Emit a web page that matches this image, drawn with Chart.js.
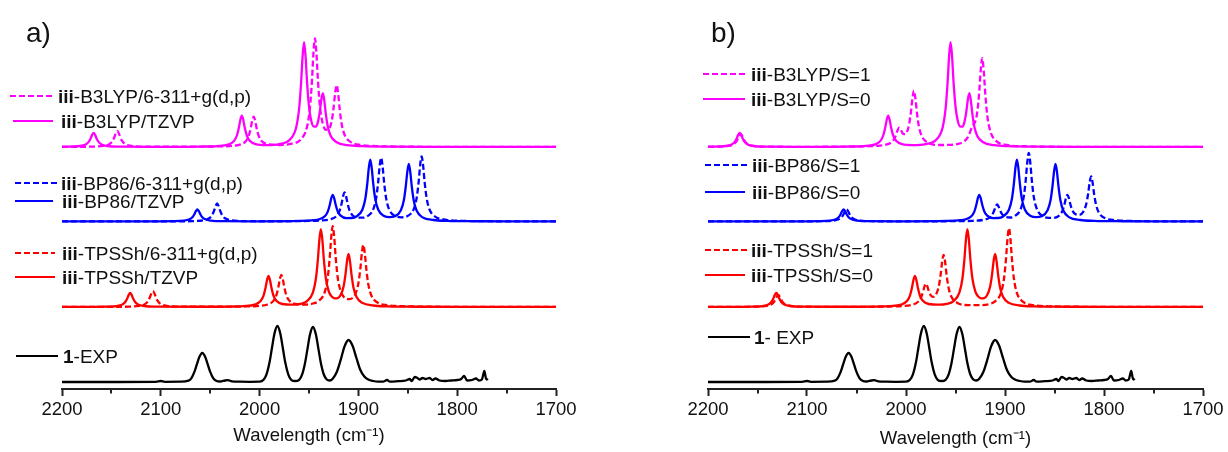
<!DOCTYPE html>
<html><head><meta charset="utf-8">
<script src="https://cdn.jsdelivr.net/npm/chart.js@4.4.1/dist/chart.umd.min.js"></script>
<style>
html,body{margin:0;padding:0;background:#fff;overflow:hidden;width:1228px;height:452px;position:relative}
#wa{position:absolute;left:0;top:0;width:614px;height:452px}
#wb{position:absolute;left:614px;top:0;width:614px;height:470px}
canvas{display:block}
</style></head><body>
<div id="wa"><canvas id="ca" width="614" height="452"></canvas></div>
<div id="wb"><canvas id="cb" width="614" height="470"></canvas></div>
<script>
// ---------- DATA ----------
const waveTicks = [2200, 2100, 2000, 1900, 1800, 1700];
const minorTicks = [2150, 2050, 1950, 1850, 1750];
// vertical offsets of the stacked spectra: B3LYP, BP86, TPSSh, EXP
const baselineOffsets = [242, 167.5, 82, 7];

const legendLabelsA = ['iii-B3LYP/6-311+g(d,p)', 'iii-B3LYP/TZVP', 'iii-BP86/6-311+g(d,p)', 'iii-BP86/TZVP',
  'iii-TPSSh/6-311+g(d,p)', 'iii-TPSSh/TZVP', '1-EXP'];
const legendLabelsB = ['iii-B3LYP/S=1', 'iii-B3LYP/S=0', 'iii-BP86/S=1', 'iii-BP86/S=0',
  'iii-TPSSh/S=1', 'iii-TPSSh/S=0', '1- EXP'];

// B3LYP/TZVP  (= B3LYP/S=0)
const b3lypTzvpX = [2200,2182,2176,2173,2171,2169.5,2168,2166.5,2165,2163,2160,2154,2143,2110,2060,2043,2032,2026,2023,2021,2019.5,2018,2016.5,2015,2013,2010,2004,1993,1980,1969,1963,1960,1958,1956.5,1955,1953.5,1952,1950,1948,1945.5,1943,1941,1939,1937.5,1936,1934.5,1933,1931,1928,1922,1911,1896,1870,1820,1750,1700];
const b3lypTzvpY = [0.25,1.0,2.6,5.1,8.6,12.1,14.1,12.1,8.6,5.1,2.6,1.0,0.35,0.2,0.45,0.95,2.4,5.9,11.5,19.3,27.1,31.4,27.1,19.3,11.6,6.2,2.8,1.9,2.9,7.7,19.5,38.3,64.2,90.4,104.9,91,65.4,40.5,27.4,20.6,20.4,24.9,35.9,47.6,53.9,46.4,33.4,20.5,11,4.7,1.8,0.85,0.4,0.15,0.07,0.05];
// B3LYP/6-311+g(d,p)
const b3lyp6311X = [2200,2175,2158,2152,2149,2147,2145.5,2144,2142.5,2141,2139,2136,2130,2119,2080,2045,2031,2020,2014,2011,2009,2007.5,2006,2004.5,2003,2001,1998,1992,1981,1970,1958,1952,1949,1947,1945.5,1944,1942.5,1941,1939,1936,1933,1930,1927,1925,1923.5,1922,1920.5,1919,1917,1914,1908,1897,1882,1850,1780,1700];
const b3lyp6311Y = [0.1,0.25,1.1,2.9,5.8,9.8,13.8,16,13.8,9.8,5.8,2.9,1.15,0.45,0.25,0.5,0.95,2.4,5.8,11.2,18.7,26.3,30.4,26.3,18.8,11.3,6.1,2.9,2.0,2.9,8.0,20.2,39.6,66.6,93.7,108.7,94.1,67.5,41.2,23.3,17.2,17.8,26.1,40,54.3,62,53.6,38.4,23.2,12.3,5.1,2.0,0.9,0.3,0.1,0.05];
// B3LYP/S=1
const b3lypS1X = [2200,2185,2181,2175,2172,2170,2168.5,2167,2165.5,2164,2162,2159,2153,2142,2100,2050,2035,2028,2021,2015,2012,2010,2008.5,2007,2005,2003,2001,1999,1997,1995,1993.5,1992,1990.5,1989,1987,1984,1978,1967,1955,1947,1941,1938,1935.5,1933,1930.5,1928,1926,1924.5,1923,1921.5,1920,1918,1915,1909,1898,1880,1840,1760,1700];
const b3lypS1Y = [0.2,0.55,0.9,2.3,4.7,7.9,11.2,13,11.2,7.9,4.7,2.3,0.9,0.35,0.2,0.5,0.8,1.2,2.1,4.5,7.8,12.3,16.7,19.4,16.9,13.2,12.8,15.3,22,35,48.7,56.3,48.5,34.6,20.7,10.7,4.4,2.0,2.1,3.2,5.8,9.1,14.3,21,24.4,35.1,55.6,77,88.8,76.4,54.2,32.1,16.2,6.1,2.0,0.75,0.2,0.08,0.05];

// BP86/TZVP (= BP86/S=0)
const bp86TzvpX = [2200,2100,2088,2077,2071,2068,2066,2064.5,2063,2061.5,2060,2058,2055,2049,2038,2000,1960,1945,1940,1934,1931,1929,1927.5,1926,1924.5,1923,1921,1918,1912,1907,1902,1896,1893,1891,1889.5,1888,1886.5,1885,1883,1880,1874,1868.5,1863,1857,1854,1852,1850.5,1849,1847.5,1846,1844,1841,1835,1824,1810,1780,1740,1700];
const bp86TzvpY = [0.05,0.15,0.3,0.8,2.2,4.3,7.3,10.3,12,10.3,7.3,4.3,2.2,0.85,0.3,0.2,0.55,1.3,2.15,5.2,9.9,16.5,23.1,26.7,23.2,16.7,10.3,5.8,3.4,3.5,5.0,11.8,22.7,38,53.3,61.8,53.4,38,22.9,12,5.5,4.35,5.2,11.2,21.2,35.5,49.7,57.6,49.7,35.3,21,10.7,4.1,1.5,0.65,0.25,0.1,0.05];
// BP86/6-311+g(d,p)
const bp866311X = [2200,2100,2080,2068,2057,2051,2048,2046,2044.5,2043,2041.5,2040,2038,2035,2029,2018,1990,1950,1939,1928,1922,1919,1917,1915.5,1914,1912.5,1911,1909,1906,1900,1896,1891,1885,1882,1880,1878.5,1877,1875.5,1874,1872,1869,1863,1856.5,1850,1844,1841,1839,1837.5,1836,1834.5,1833,1831,1828,1822,1811,1796,1770,1730,1700];
const bp866311Y = [0.05,0.1,0.2,0.4,1.2,3.2,6.5,11,15.5,18,15.5,11,6.5,3.2,1.25,0.45,0.25,0.55,0.95,2.35,5.7,10.8,18,25.2,29.2,25.4,18.2,11.2,6.3,3.8,3.8,5.2,12.1,23.5,39.2,55.1,63.8,55.1,39.3,23.6,12.4,5.6,4.2,5.6,12.4,23.8,39.7,56.2,65.1,56.2,39.8,23.7,12,4.7,1.7,0.7,0.3,0.12,0.08];
// BP86/S=1
const bp86S1X = [2200,2100,2085,2074,2068,2065,2063,2061.5,2060,2058.5,2057,2055,2052,2046,2035,1990,1950,1933,1922,1916,1913,1911,1909.5,1908,1906.5,1905,1903,1900,1895,1890,1884,1881,1879,1877.5,1876,1874.5,1873,1871,1868,1862,1856,1851,1845,1842,1840,1838.5,1837,1835.5,1834,1832,1829,1825,1821,1818,1816,1814.5,1813,1811.5,1810,1808,1805,1799,1788,1773,1740,1700];
const bp86S1Y = [0.05,0.1,0.3,0.8,2.2,4.3,7.3,10.3,12,10.3,7.3,4.3,2.2,0.8,0.3,0.15,0.35,0.7,1.6,3.6,6.6,10.7,14.8,17,14.9,11.1,7.3,4.7,4.0,5.5,12.9,25.1,42.1,59.2,68.6,59.2,42.1,25.1,13,5.4,3.6,3.6,6.1,10.6,16.9,23.2,26.7,23.5,17.3,11.3,7.4,6.6,9.7,17.2,28,39,45,38.8,27.6,16.6,8.6,3.4,1.3,0.55,0.15,0.05];

// TPSSh/TZVP (= TPSSh/S=0)
const tpsshTzvpX = [2200,2170,2156,2145,2139,2136,2134,2132.5,2131,2129.5,2128,2126,2123,2117,2106,2060,2030,2016,2005,1999,1996,1994,1992.5,1991,1989.5,1988,1986,1983,1977,1966,1959,1952,1946,1943,1941,1939.5,1938,1936.5,1935,1933,1930,1927,1924,1921,1918,1915,1913,1911.5,1910,1908.5,1907,1905,1902,1896,1885,1870,1840,1780,1700];
const tpsshTzvpY = [0.05,0.15,0.3,0.95,2.5,5.0,8.5,12.1,14,12.1,8.5,5.0,2.5,1.0,0.35,0.25,0.45,0.9,2.4,5.9,11.4,19.2,26.9,31.1,26.9,19.2,11.5,6.2,3.0,2.3,3.1,5.9,14.6,28.5,47.7,67.2,77.9,67.4,48.1,29,15.6,10.4,8.7,8.9,11.9,20.6,33.2,46,53,45.7,32.6,19.6,10.2,4.1,1.5,0.65,0.25,0.08,0.04];
// TPSSh/6-311+g(d,p)
const tpssh6311X = [2200,2160,2133,2122,2116,2113,2111,2109.5,2108,2106.5,2105,2103,2100,2094,2083,2040,2017,2003,1992,1986,1983,1981,1979.5,1978,1976.5,1975,1973,1970,1964,1953,1946,1940,1934,1931,1929,1927.5,1926,1924.5,1923,1921,1918,1915,1912,1909,1906,1903,1900,1898,1896.5,1895,1893.5,1892,1890,1887,1881,1870,1855,1820,1760,1700];
const tpssh6311Y = [0.05,0.1,0.35,1.1,2.9,5.8,9.8,13.8,16,13.8,9.8,5.8,2.9,1.1,0.4,0.3,0.5,1.0,2.5,6.1,11.9,19.8,27.7,32.1,27.7,19.9,12,6.4,3.1,2.4,3.5,6.1,15.2,29.6,49.6,69.8,80.9,70,49.9,30,16,10.4,8.2,7.8,9,13.1,23.6,38.6,53.9,62.2,53.7,38.2,22.9,11.8,4.7,1.7,0.8,0.25,0.08,0.05];
// TPSSh/S=1
const tpsshS1X = [2200,2160,2154,2143,2137,2134,2132,2130.5,2129,2127.5,2126,2124,2121,2115,2104,2060,2020,2005,1994,1988,1985,1983,1981.5,1980,1978.5,1977,1975,1972.5,1970,1967,1965,1963.5,1962,1960.5,1959,1957,1954,1948,1937,1925,1915,1910,1904,1901,1899,1897.5,1896,1894.5,1893,1891,1888,1882,1871,1856,1820,1760,1700];
const tpsshS1Y = [0.05,0.2,0.3,0.8,2.2,4.3,7.3,10.3,12,10.3,7.3,4.3,2.2,0.8,0.3,0.15,0.45,0.95,2.2,5,9.1,14.5,20,23.3,20.7,16,11.7,10.2,12,20.2,32.5,45.2,52.1,45,32,19.2,10,4.1,1.9,1.9,3.2,5.6,14.3,28.5,48.1,67.9,78.7,67.9,48,28.4,14.2,5.4,1.8,0.7,0.2,0.06,0.04];

// 1 - experimental spectrum
const expX = [2200,2150,2105,2100,2096,2080,2072,2069,2066,2063.5,2061,2058,2055,2052.5,2050,2047,2044,2040,2035,2032,2028,2020,2010,2000,1996,1993,1990,1987.5,1985,1982,1979,1976.5,1974,1971,1968,1964,1960,1957,1954,1951.5,1949,1946,1943,1940.5,1938,1935,1932,1929,1926,1922,1918,1914,1910,1906,1902,1898,1894,1890,1885,1880,1875,1871,1868,1860,1852,1848,1846,1843,1841,1838,1835,1832,1828,1825,1822,1818,1812,1806,1800,1796,1793,1790,1785,1781,1778,1775,1772.5,1771,1769];
const expY = [0,0,0.2,1.0,0.2,0.3,1.3,3.9,10.1,17.6,25,29,25,17.6,10.1,3.9,1.3,0.5,1.5,1.8,0.6,0.3,0.2,0.3,2.2,7.6,19.4,34,48.3,56,48.3,34,19.4,7.6,2.2,1.0,2.2,7.4,19.1,33.4,47.4,55,47.4,33.4,19.1,7.5,2.5,1.5,3.3,9.7,21.9,35.7,42,36.5,24,12,5.5,2.5,1,0.3,0.3,2,0.3,0.8,1.5,3,1,5,4.5,2.5,4,3,4,2,3.5,1.5,1,1.5,2,3,6,1.5,2,3.5,1.5,2.5,11,4,2];

// ---------- RENDERING ----------
const FONT = '"Liberation Sans", Arial, Helvetica, sans-serif';
const MAG = '#ff00ff', BLU = '#0000ff', RED = '#ff0000', BLK = '#000000';
const TXT = '#111111';

function pts(xs, ys, off) { return xs.map((x, i) => ({ x: x, y: ys[i] + off })); }
function ds(label, xs, ys, off, color, dashed) {
  return {
    label: label, data: pts(xs, ys, off), borderColor: color, backgroundColor: color,
    borderWidth: 2.3, pointRadius: 0, pointHoverRadius: 0, fill: false,
    cubicInterpolationMode: 'monotone', borderJoinStyle: 'round',
    borderDash: dashed ? [6, 3] : []
  };
}

const annotPlugin = {
  id: 'annot',
  afterDraw(chart, args, o) {
    const ctx = chart.ctx;
    const dx = o.dx;
    ctx.save();
    // minor ticks
    const xs = chart.scales.x;
    const yb = chart.chartArea.bottom;
    ctx.strokeStyle = '#222'; ctx.lineWidth = 2; ctx.setLineDash([]);
    minorTicks.forEach(v => {
      const px = Math.round(xs.getPixelForValue(v));
      ctx.beginPath(); ctx.moveTo(px, yb); ctx.lineTo(px, yb + 4.5); ctx.stroke();
    });
    // legend entries
    o.items.forEach(it => {
      ctx.strokeStyle = it.color; ctx.lineWidth = 2.2;
      ctx.setLineDash(it.dash ? [6, 3] : []);
      ctx.beginPath(); ctx.moveTo(it.x1 - dx, it.y); ctx.lineTo(it.x2 - dx, it.y); ctx.stroke();
      ctx.setLineDash([]);
      const k = it.text.indexOf('-');
      const bold = it.text.slice(0, k), rest = it.text.slice(k);
      let x = it.tx - dx; const base = it.y + 6.5;
      ctx.fillStyle = TXT; ctx.textAlign = 'left'; ctx.textBaseline = 'alphabetic';
      ctx.font = 'bold 19px ' + FONT; ctx.fillText(bold, x, base);
      x += ctx.measureText(bold).width;
      ctx.font = '19px ' + FONT; ctx.fillText(rest, x, base);
    });
    // panel label
    ctx.fillStyle = TXT; ctx.font = '28px ' + FONT; ctx.textBaseline = 'alphabetic';
    ctx.fillText(o.label, o.lx - dx, o.ly);
    ctx.restore();
  }
};

function makeChart(id, datasets, padL, padR, axisH, titlePad, annot) {
  return new Chart(document.getElementById(id), {
    type: 'line',
    data: { datasets: datasets },
    plugins: [annotPlugin],
    options: {
      responsive: false, animation: false, events: [],
      layout: { padding: { left: padL, right: padR, top: 0, bottom: 0 } },
      plugins: { legend: { display: false }, tooltip: { enabled: false }, annot: annot },
      scales: {
        x: {
          type: 'linear', min: 1700, max: 2200, reverse: true,
          afterFit: s => { s.height = axisH; },
          afterBuildTicks: s => { s.ticks = waveTicks.map(v => ({ value: v })); },
          ticks: { color: TXT, font: { family: FONT, size: 18.5 }, padding: 3, maxRotation: 0, autoSkip: false,
                   callback: v => String(v) },
          grid: { display: true, drawOnChartArea: false, drawTicks: true, tickLength: 7, tickWidth: 2, tickColor: '#222' },
          border: { display: true, color: '#222', width: 2 },
          title: { display: true, text: 'Wavelength (cm\u207B\u00B9)', color: TXT, font: { family: FONT, size: 18.5 },
                   padding: { top: 0, bottom: titlePad } }
        },
        y: { display: false, min: 0, max: 389 }
      }
    }
  });
}

const [oM, oB, oR, oE] = baselineOffsets;

makeChart('ca', [
  ds('1-EXP', expX, expY, oE, BLK, false),
  ds(legendLabelsA[4], tpssh6311X, tpssh6311Y, oR, RED, true),
  ds(legendLabelsA[5], tpsshTzvpX, tpsshTzvpY, oR, RED, false),
  ds(legendLabelsA[2], bp866311X, bp866311Y, oB, BLU, true),
  ds(legendLabelsA[3], bp86TzvpX, bp86TzvpY, oB, BLU, false),
  ds(legendLabelsA[0], b3lyp6311X, b3lyp6311Y, oM, MAG, true),
  ds(legendLabelsA[1], b3lypTzvpX, b3lypTzvpY, oM, MAG, false)
], 62, 58, 63, 5, {
  dx: 0, label: 'a)', lx: 26, ly: 42,
  items: [
    { dash: true, color: MAG, x1: 10, x2: 55, y: 96, tx: 58, text: legendLabelsA[0] },
    { dash: false, color: MAG, x1: 13, x2: 53, y: 121, tx: 61, text: legendLabelsA[1] },
    { dash: true, color: BLU, x1: 15, x2: 57, y: 183, tx: 61, text: legendLabelsA[2] },
    { dash: false, color: BLU, x1: 15, x2: 53, y: 201, tx: 62, text: legendLabelsA[3] },
    { dash: true, color: RED, x1: 15, x2: 55, y: 253, tx: 62, text: legendLabelsA[4] },
    { dash: false, color: RED, x1: 15, x2: 55, y: 277, tx: 62, text: legendLabelsA[5] },
    { dash: false, color: BLK, x1: 16, x2: 58, y: 356, tx: 63, text: legendLabelsA[6] }
  ]
});

makeChart('cb', [
  ds('1- EXP', expX, expY, oE, BLK, false),
  ds(legendLabelsB[4], tpsshS1X, tpsshS1Y, oR, RED, true),
  ds(legendLabelsB[5], tpsshTzvpX, tpsshTzvpY, oR, RED, false),
  ds(legendLabelsB[2], bp86S1X, bp86S1Y, oB, BLU, true),
  ds(legendLabelsB[3], bp86TzvpX, bp86TzvpY, oB, BLU, false),
  ds(legendLabelsB[0], b3lypS1X, b3lypS1Y, oM, MAG, true),
  ds(legendLabelsB[1], b3lypTzvpX, b3lypTzvpY, oM, MAG, false)
], 94, 25, 81, 20, {
  dx: 614, label: 'b)', lx: 711, ly: 42,
  items: [
    { dash: true, color: MAG, x1: 703, x2: 747, y: 74, tx: 751, text: legendLabelsB[0] },
    { dash: false, color: MAG, x1: 703, x2: 745, y: 99, tx: 751, text: legendLabelsB[1] },
    { dash: true, color: BLU, x1: 705, x2: 748, y: 165, tx: 752, text: legendLabelsB[2] },
    { dash: false, color: BLU, x1: 705, x2: 745, y: 192, tx: 752, text: legendLabelsB[3] },
    { dash: true, color: RED, x1: 705, x2: 748, y: 250, tx: 751, text: legendLabelsB[4] },
    { dash: false, color: RED, x1: 705, x2: 745, y: 275, tx: 751, text: legendLabelsB[5] },
    { dash: false, color: BLK, x1: 708, x2: 750, y: 337, tx: 754, text: legendLabelsB[6] }
  ]
});
</script>
</body></html>
